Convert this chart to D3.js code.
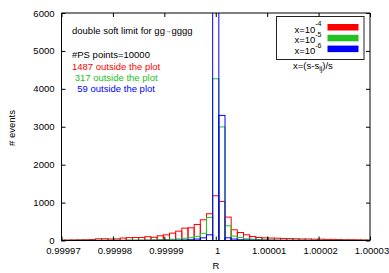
<!DOCTYPE html>
<html><head><meta charset="utf-8">
<script src="https://cdn.jsdelivr.net/npm/d3@7"></script>
<style>body{margin:0;background:#fff}svg{display:block;font-family:"Liberation Sans",Arial,sans-serif}</style>
</head><body><svg id="c" width="389" height="273"></svg>
<script>
// bin index (bins of width 1.2e-6 centred on 1 + k*1.2e-6)
const binIndex = d3.range(-25, 26);
const binWidth = 1.2e-6;
const redVals = [10,12,15,18,20,25,45,45,40,42,65,75,78,80,100,85,124,150,194,247,326,335,423,546,705,
  1180,
  1030,617,282,211,150,106,79,70,65,60,55,50,45,40,40,35,35,30,30,25,20,20,18,15,12];
const greenVals = [3,3,4,4,5,5,6,6,7,8,8,10,10,12,14,18,22,28,35,42,60,75,110,190,610,
  4265,
  2995,388,115,80,45,35,25,20,15,12,10,9,8,7,6,6,5,5,4,4,4,3,3,3,3];
const blueVals = [1,1,1,1,1,1,2,2,2,2,2,3,3,3,4,4,5,6,8,10,15,20,38,70,150,
  6190,
  3300,70,38,20,15,10,8,6,5,4,4,3,3,3,2,2,2,2,2,1,1,1,1,1,1];
const xTicks = [0.99997,0.99998,0.99999,1,1.00001,1.00002,1.00003];
const xTickLabels = ["0.99997","0.99998","0.99999","1","1.00001","1.00002","1.00003"];
const yTicks = [0,1000,2000,3000,4000,5000,6000];
const seriesNames = ["x=10","x=10","x=10"];
const seriesExp = ["-4","-5","-6"];
const seriesColors = ["#ff0000","#22c022","#0000ff"];
const outsideCounts = ["1487","317","59"];
const outsidePrefix = [""," ","  "];

const svg = d3.select("#c");
const L = 61.5, R = 370, T = 13, B = 240.5;
const x = d3.scaleLinear().domain([0.99997, 1.00003]).range([L, R]);
const y = d3.scaleLinear().domain([0, 6000]).range([B, T]);

svg.append("defs").append("clipPath").attr("id","clip")
  .append("rect").attr("x",L).attr("y",T).attr("width",R-L).attr("height",B-T);

const plot = svg.append("g").attr("clip-path","url(#clip)");
[redVals, greenVals, blueVals].forEach((vals, si) => {
  plot.append("g").selectAll("rect").data(vals).join("rect")
    .attr("x", (v,i) => x(1 + binIndex[i]*binWidth - binWidth/2))
    .attr("width", (v,i) => x(1 + binIndex[i]*binWidth + binWidth/2) - x(1 + binIndex[i]*binWidth - binWidth/2))
    .attr("y", v => y(v))
    .attr("height", v => y(0) - y(v))
    .attr("fill","none").attr("stroke", seriesColors[si]).attr("stroke-width",1);
});

// axes
const fs = "9.5px";
const gl = svg.append("g").attr("transform",`translate(${L},0)`)
  .call(d3.axisLeft(y).tickValues(yTicks).tickSize(-4).tickPadding(7).tickFormat(d3.format("d")));
const gr = svg.append("g").attr("transform",`translate(${R},0)`)
  .call(d3.axisRight(y).tickValues(yTicks).tickSize(-4).tickFormat(""));
const gb = svg.append("g").attr("transform",`translate(0,${B})`)
  .call(d3.axisBottom(x).tickValues(xTicks).tickSize(-4).tickPadding(7).tickFormat((d,i)=>xTickLabels[i]));
const gt = svg.append("g").attr("transform",`translate(0,${T})`)
  .call(d3.axisTop(x).tickValues(xTicks).tickSize(-4).tickFormat(""));
[gl,gr,gb,gt].forEach(g => {
  g.select(".domain").remove();
  g.selectAll("line").attr("stroke","#000");
  g.selectAll("text").attr("font-size",fs).attr("fill","#000").attr("font-family","Liberation Sans, Arial, sans-serif");
});
gb.selectAll("text").attr("dx", 1.5);
// frame
svg.append("line").attr("x1",L).attr("x2",L).attr("y1",T).attr("y2",B+0.5).attr("stroke","#000");
svg.append("line").attr("x1",L).attr("x2",R).attr("y1",B).attr("y2",B).attr("stroke","#000");
svg.append("line").attr("x1",L).attr("x2",R).attr("y1",T).attr("y2",T).attr("stroke","#000");
svg.append("line").attr("x1",R).attr("x2",R).attr("y1",T).attr("y2",B).attr("stroke","#000");

// axis labels
svg.append("text").attr("x",216).attr("y",269).attr("text-anchor","middle").attr("font-size",fs).text("R");
svg.append("text").attr("transform","translate(15,128) rotate(-90)").attr("text-anchor","middle").attr("font-size",fs).text("# events");

// annotations
const t1 = svg.append("text").attr("x",72).attr("y",34).attr("font-size",fs);
t1.append("tspan").text("double soft limit for gg");
t1.append("tspan").attr("font-size","6.5px").attr("dy",-1).text("→");
t1.append("tspan").attr("dy",1).text("gggg");
svg.append("text").attr("x",72).attr("y",58).attr("font-size",fs).text("#PS points=10000");
outsideCounts.forEach((c,i) => {
  svg.append("text").attr("x",72).attr("y",69.5 + i*11.2).attr("font-size",fs)
    .attr("fill",seriesColors[i]).attr("xml:space","preserve").style("white-space","pre")
    .text(outsidePrefix[i] + c + " outside the plot");
});

// legend
svg.append("rect").attr("x",276.5).attr("y",16.5).attr("width",87.5).attr("height",43)
  .attr("fill","#fff").attr("stroke","#222");
seriesNames.forEach((n,i) => {
  const by = 32.5 + i*10.8;
  const t = svg.append("text").attr("x",321.5).attr("y",by).attr("text-anchor","end").attr("font-size",fs);
  t.append("tspan").text(n);
  t.append("tspan").attr("font-size","7px").attr("dy",-6.5).text(seriesExp[i]);
  svg.append("rect").attr("x",327.5).attr("y",by-8.5).attr("width",31).attr("height",6.5).attr("fill",seriesColors[i]);
});
const lt = svg.append("text").attr("x",293).attr("y",68.5).attr("font-size",fs);
lt.append("tspan").text("x=(s-s");
lt.append("tspan").attr("font-size","7px").attr("dy",2.5).text("ij");
lt.append("tspan").attr("dy",-2.5).text(")/s");
</script></body></html>
